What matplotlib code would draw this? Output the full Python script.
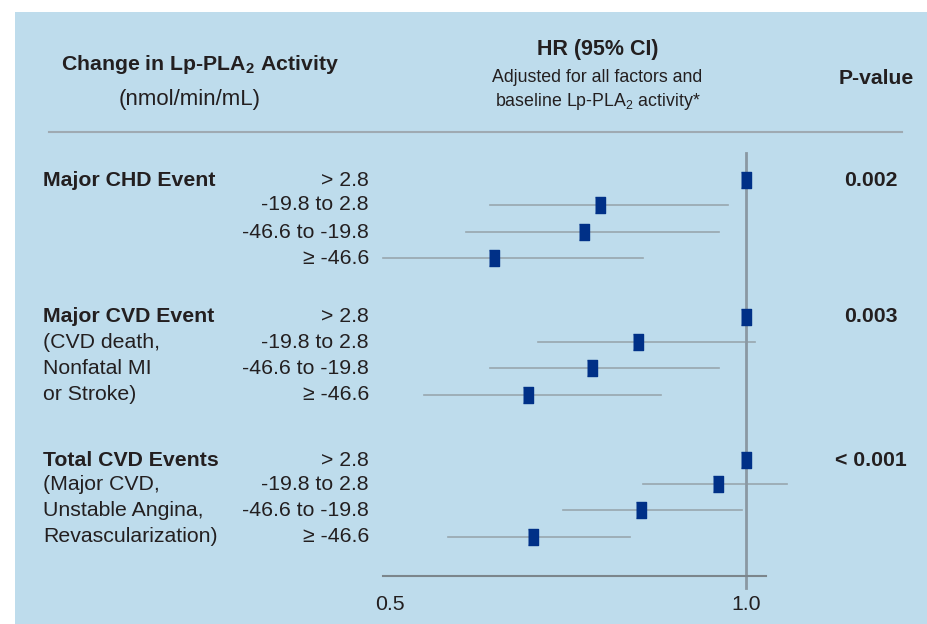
import matplotlib.pyplot as plt
from matplotlib.patches import Rectangle

plt.rcParams['font.family'] = ['Liberation Sans', 'DejaVu Sans']

# Data (hazard ratios and 95% CI).
groups = ['Major CHD Event', 'Major CVD Event', 'Total CVD Events']
group_notes = [[], ['(CVD death,', 'Nonfatal MI', 'or Stroke)'],
               ['(Major CVD,', 'Unstable Angina,', 'Revascularization)']]
categories = ['> 2.8', '-19.8 to 2.8', '-46.6 to -19.8', '\u2265 -46.6']
hr = [[1.0, 0.795, 0.773, 0.646],
      [1.0, 0.849, 0.784, 0.694],
      [1.0, 0.960, 0.853, 0.701]]
ci_low = [[None, 0.640, 0.607, 0.490],
          [None, 0.708, 0.640, 0.548],
          [None, 0.856, 0.743, 0.581]]
ci_high = [[None, 0.975, 0.962, 0.856],
           [None, 1.012, 0.962, 0.881],
           [None, 1.058, 0.994, 0.837]]
p_values = ['0.002', '0.003', '< 0.001']
ticks = [0.5, 1.0]
tick_labels = ['0.5', '1.0']

# Layout (pixel rows).
row_y = [[180, 205, 232, 258], [317, 342, 368, 395], [460, 484, 510, 537]]
txt = '#231f20'
sq = '#003087'
fs = 15.3
vb = 'center_baseline'
dy = -2  # text sits slightly above the mark centre

fig = plt.figure(figsize=(9.28, 6.24), dpi=100, facecolor='white')

# overlay axes in pixel coordinates for text and decoration
ov = fig.add_axes([0, 0, 1, 1])
ov.set_xlim(0, 928)
ov.set_ylim(624, 0)
ov.axis('off')
ov.add_patch(Rectangle((15, 12), 913, 612, facecolor='#bedcec', edgecolor='none', zorder=0))

# forest axes: x in HR units, y in pixels
ax = fig.add_axes([0, 0, 1, 1])
ax.set_xlim(0.5 - 390 / 712, 0.5 + 538 / 712)
ax.set_ylim(624, 0)
ax.axis('off')
ax.patch.set_alpha(0)

box = [(-5.5, -8), (5.5, -8), (5.5, 8), (-5.5, 8)]
for g in range(len(groups)):
    for i in range(len(categories)):
        y = row_y[g][i]
        if ci_low[g][i] is not None:
            ax.plot([ci_low[g][i], ci_high[g][i]], [y, y], color='#98a6ae', lw=1.2, zorder=2)
        ax.plot(hr[g][i], y, marker=box, markersize=11.5, color=sq, ls='none', zorder=4)
        ax.text(0.5 - 21 / 712, y + dy, categories[i], ha='right', va=vb,
                fontsize=fs, color=txt)
    ov.text(43, row_y[g][0] + dy, groups[g], ha='left', va=vb, fontsize=fs,
            fontweight='bold', color=txt)
    for k, note in enumerate(group_notes[g]):
        ov.text(43, row_y[g][k + 1] + dy, note, ha='left', va=vb, fontsize=fs, color=txt)
    ov.text(871, row_y[g][0] + dy, p_values[g], ha='center', va=vb, fontsize=fs,
            fontweight='bold', color=txt)

# reference line and axis
ax.plot([1.0, 1.0], [153, 588], color='#8a98a2', lw=2, zorder=3)
ax.plot([0.5 - 7 / 712, 1.0 + 20 / 712], [576, 576], color='#7c868c', lw=1.5, zorder=3)
for t, lab in zip(ticks, tick_labels):
    ax.text(t, 603, lab, ha='center', va=vb, fontsize=fs, color=txt)

# headers
ov.text(200, 62, 'Change in Lp-PLA$_\\mathregular{2}$ Activity', ha='center', va=vb,
        fontsize=15.3, fontweight='bold', color=txt)
ov.text(190, 97, '(nmol/min/mL)', ha='center', va=vb, fontsize=16, color=txt)
ov.text(598, 47, 'HR (95% CI)', ha='center', va=vb, fontsize=15.5,
        fontweight='bold', color=txt)
ov.text(597, 75, 'Adjusted for all factors and', ha='center', va=vb,
        fontsize=12.8, color=txt)
ov.text(598, 99, 'baseline Lp-PLA$_\\mathregular{2}$ activity*', ha='center', va=vb,
        fontsize=12.8, color=txt)
ov.text(876, 76, 'P-value', ha='center', va=vb, fontsize=15.2,
        fontweight='bold', color=txt)
ov.plot([49, 902], [132, 132], color='#9faab2', lw=1.5)

fig.savefig('out.png', dpi=100, facecolor='white')
